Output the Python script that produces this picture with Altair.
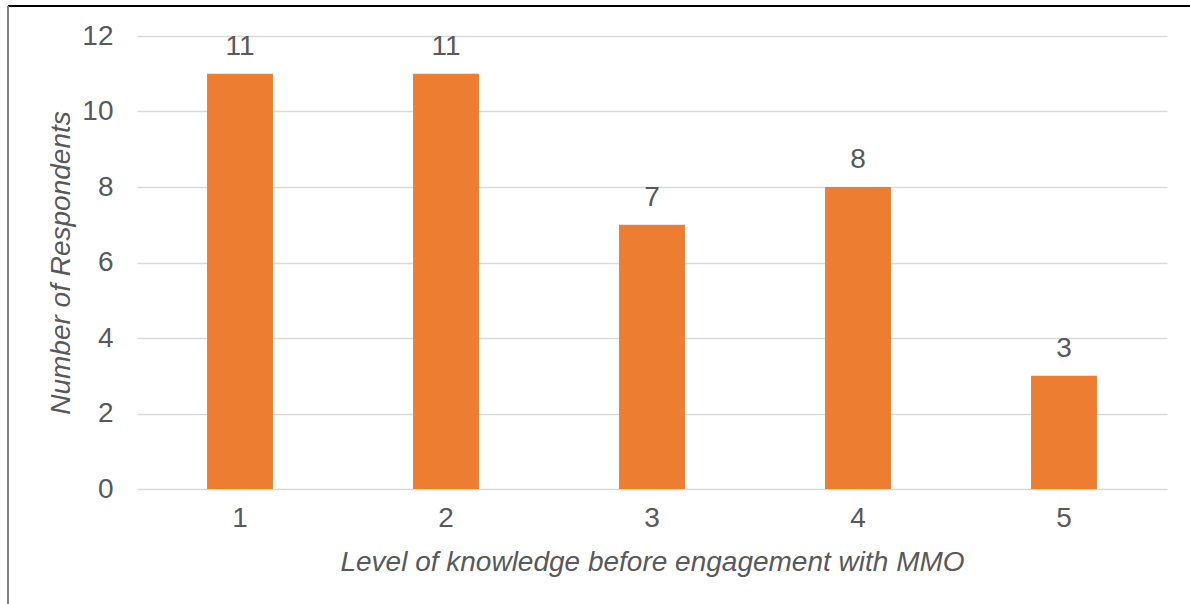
import altair as alt
import pandas as pd

levels = ["1", "2", "3", "4", "5"]
respondents = [11, 11, 7, 8, 3]

df = pd.DataFrame({"level": levels, "count": respondents})

FONT = "Liberation Sans"
TXT = "#595959"
FS = 28

base = alt.Chart(df)

bars = base.mark_bar(color="#ED7D31").encode(
    x=alt.X(
        "level:N",
        sort=levels,
        scale=alt.Scale(paddingInner=0.68, paddingOuter=0.34),
        axis=alt.Axis(
            title="Level of knowledge before engagement with MMO",
            labelAngle=0,
            labelFontSize=FS,
            labelColor=TXT,
            labelFont=FONT,
            labelPadding=15,
            ticks=False,
            domain=False,
            grid=False,
            titleFontSize=FS,
            titleFont=FONT,
            titleFontStyle="italic",
            titleFontWeight="normal",
            titleColor=TXT,
            titlePadding=16,
        ),
    ),
    y=alt.Y(
        "count:Q",
        scale=alt.Scale(domain=[0, 12], nice=False),
        axis=alt.Axis(
            title="Number of Respondents",
            values=[0, 2, 4, 6, 8, 10, 12],
            labelFontSize=FS,
            labelColor=TXT,
            labelFont=FONT,
            labelPadding=24,
            ticks=False,
            domain=False,
            gridColor="#D9D9D9",
            gridWidth=1.5,
            titleFontSize=FS,
            titleFont=FONT,
            titleFontStyle="italic",
            titleFontWeight="normal",
            titleColor=TXT,
            titlePadding=6,
        ),
    ),
)

labels = base.mark_text(
    dy=-13, fontSize=FS, font=FONT, color=TXT, baseline="bottom"
).encode(
    x=alt.X("level:N", sort=levels),
    y=alt.Y("count:Q"),
    text="count:Q",
)

frame_top = base.mark_rule(color="#000000", strokeWidth=1.5).encode(
    x=alt.value(-129), x2=alt.value(1060), y=alt.value(-30)
)
frame_left = base.mark_rule(color="#7F7F7F", strokeWidth=1.5).encode(
    x=alt.value(-129), y=alt.value(-30), y2=alt.value(570)
)

chart = (
    alt.layer(bars, labels, frame_top, frame_left)
    .properties(
        width=1030,
        height=453,
        autosize=alt.AutoSizeParams(type="none"),
        padding={"left": 137, "top": 36, "right": 23, "bottom": 115},
        background="white",
    )
    .configure_view(strokeWidth=0)
)

chart.save("out.html", embed_options={"renderer": "svg", "actions": False})
